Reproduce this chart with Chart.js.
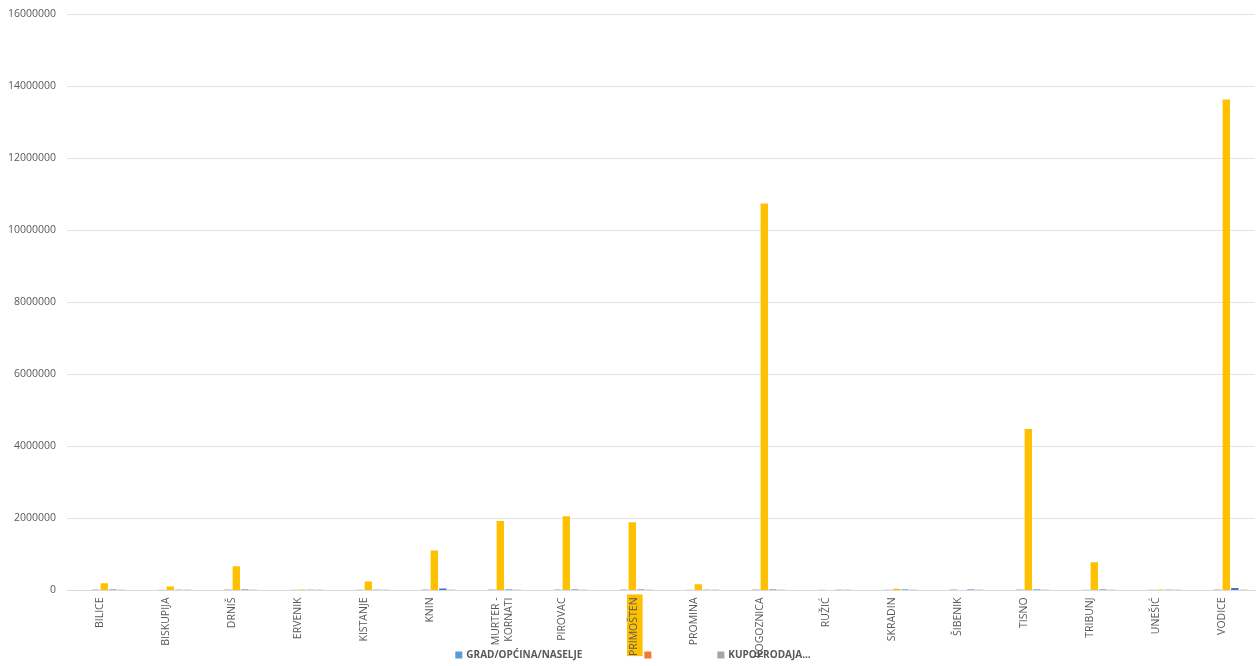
<!DOCTYPE html>
<html>
<head>
<meta charset="utf-8">
<script src="https://cdn.jsdelivr.net/npm/chart.js@4.4.1/dist/chart.umd.min.js"></script>
<style>
  html, body { margin: 0; padding: 0; background: #ffffff; }
  #wrap { width: 1256px; height: 666px; position: relative; }
</style>
</head>
<body>
<div id="wrap"><canvas id="c" width="1256" height="666"></canvas></div>
<script>
// Općine i gradovi Šibensko-kninske županije
const categories = [
  'BILICE', 'BISKUPIJA', 'DRNIŠ', 'ERVENIK', 'KISTANJE', 'KNIN',
  ['MURTER -', 'KORNATI'], 'PIROVAC', 'PRIMOŠTEN', 'PROMINA', 'ROGOZNICA',
  'RUŽIĆ', 'SKRADIN', 'ŠIBENIK', 'TISNO', 'TRIBUNJ', 'UNEŠIĆ', 'VODICE'
];

// Nazivi serija (prikazane su prve tri u legendi)
const seriesNames = ['GRAD/OPĆINA/NASELJE', '', 'KUPOPRODAJA...', 'Serija 4', 'Serija 5', 'Serija 6'];

const series1 = [0, 0, 0, 0, 0, 0, 0, 0, 0, 0, 0, 0, 0, 0, 0, 0, 0, 0];
const series2 = [0, 0, 0, 0, 0, 0, 0, 0, 0, 0, 0, 0, 0, 0, 0, 0, 0, 0];
const series3 = [25000, 22000, 25000, 20000, 22000, 28000, 25000, 25000, 25000, 22000, 28000, 20000, 22000, 25000, 28000, 22000, 20000, 28000];
const series4 = [200000, 110000, 670000, 25000, 250000, 1110000, 1930000, 2060000, 1890000, 170000, 10740000, 15000, 45000, 15000, 4480000, 780000, 25000, 13630000];
const series5 = [25000, 22000, 25000, 22000, 22000, 55000, 25000, 25000, 25000, 22000, 25000, 22000, 25000, 25000, 25000, 25000, 22000, 65000];
const series6 = [22000, 20000, 22000, 20000, 20000, 22000, 22000, 22000, 22000, 20000, 22000, 20000, 20000, 22000, 22000, 22000, 20000, 22000];

const yTicks = [0, 2000000, 4000000, 6000000, 8000000, 10000000, 12000000, 14000000, 16000000];

const colors = ['#5B9BD5', '#ED7D31', '#A5A5A5', '#FFC000', '#4472C4', '#70AD47'];
const allSeries = [series1, series2, series3, series4, series5, series6];
const highlighted = 'PRIMOŠTEN';
const FONT = '"Open Sans", "DejaVu Sans", sans-serif';
const TEXT = '#595959';

// Legenda ispod grafikona, centrirana, s prve tri serije
const bottomLegend = {
  id: 'bottomLegend',
  afterDraw(chart) {
    const ctx = chart.ctx;
    const shown = 3, box = 7, gap = 62, textGap = 4;
    ctx.save();
    ctx.font = 'bold 10px ' + FONT;
    ctx.textBaseline = 'middle';
    ctx.textAlign = 'left';
    const widths = [];
    for (let i = 0; i < shown; i++) {
      widths.push(box + textGap + ctx.measureText(chart.data.datasets[i].label).width);
    }
    const total = widths.reduce((a, b) => a + b, 0) + gap * (shown - 1);
    let x = (chart.width - total) / 2 + 5;
    const y = chart.height - 11;
    for (let i = 0; i < shown; i++) {
      const ds = chart.data.datasets[i];
      ctx.fillStyle = ds.backgroundColor;
      ctx.fillRect(x, y - box / 2, box, box);
      ctx.fillStyle = TEXT;
      ctx.fillText(ds.label, x + box + textGap, y);
      x += widths[i] + gap;
    }
    ctx.restore();
  }
};

new Chart(document.getElementById('c'), {
  type: 'bar',
  data: {
    labels: categories,
    datasets: allSeries.map((d, i) => ({
      label: seriesNames[i],
      data: d,
      backgroundColor: colors[i],
      borderWidth: 0,
      barPercentage: 0.86,
      categoryPercentage: 0.78
    }))
  },
  options: {
    responsive: false,
    animation: false,
    devicePixelRatio: 1,
    layout: { padding: { left: 0, right: 1, top: 14, bottom: 1 } },
    plugins: {
      legend: { display: false },
      tooltip: { enabled: true }
    },
    scales: {
      x: {
        grid: { display: false, drawTicks: false },
        border: { display: true, color: '#d9d9d9', width: 1 },
        ticks: {
          color: TEXT,
          font: { family: FONT, size: 10.5 },
          maxRotation: 90,
          minRotation: 90,
          autoSkip: false,
          padding: 7,
          showLabelBackdrop: (c) => c.tick && categories[c.index] === highlighted,
          backdropColor: (c) => (categories[c.index] === highlighted ? '#FFC000' : 'rgba(0,0,0,0)'),
          backdropPadding: { top: 1, bottom: 2, left: 0, right: 3 }
        }
      },
      y: {
        min: 0,
        max: yTicks[yTicks.length - 1],
        afterBuildTicks(scale) {
          scale.ticks = yTicks.map(v => ({ value: v }));
        },
        afterFit(scale) {
          scale.width = 67;
          scale.paddingTop = 0;
          scale.paddingBottom = 0;
        },
        grid: { color: '#e3e3e3', drawTicks: false, lineWidth: 1 },
        border: { display: false },
        ticks: {
          color: TEXT,
          font: { family: FONT, size: 10.5 },
          padding: 11,
          callback: (v) => String(v)
        }
      }
    }
  },
  plugins: [bottomLegend]
});
</script>
</body>
</html>
